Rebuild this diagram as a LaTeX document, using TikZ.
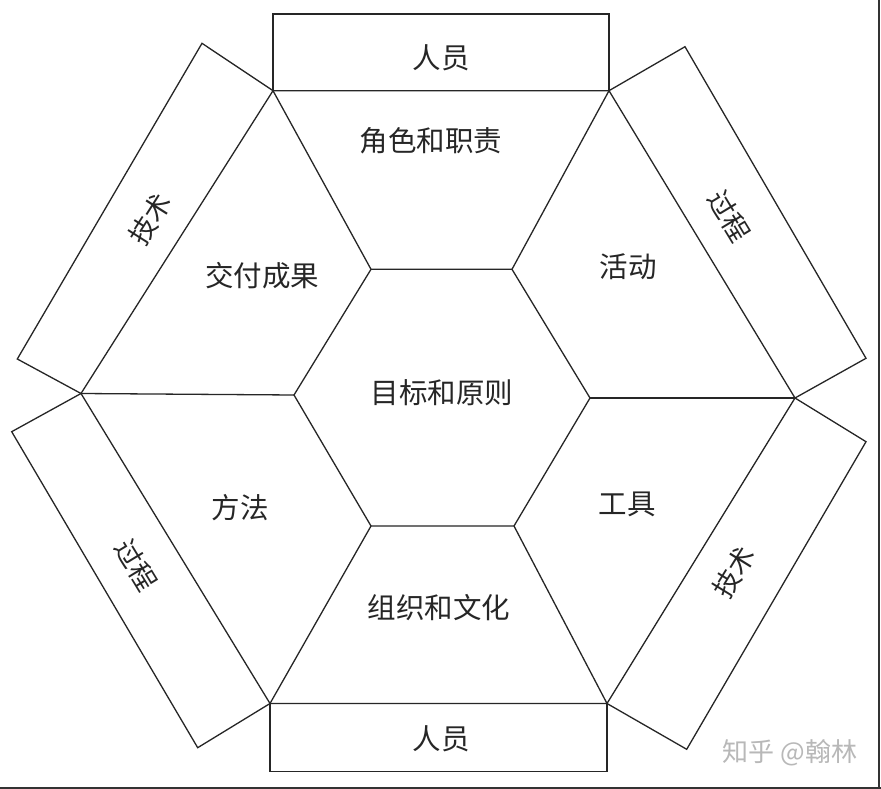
\documentclass[tikz,border=0pt]{standalone}
\usepackage{fontspec}
\newfontfamily\cjk{Noto Sans CJK SC}
\begin{document}
\begin{tikzpicture}[x=1pt,y=-1pt,
  edge/.style={draw=black!85, line width=1.3pt, line join=miter},
  lbl/.style={font=\cjk\fontsize{28.5}{31}\selectfont, text=black!85, inner sep=0pt},
  side/.style={font=\cjk\fontsize{27}{30}\selectfont, text=black!85, inner sep=0pt}]
\useasboundingbox (0,0) rectangle (881,789);
\fill[white] (0,0) rectangle (881,789);
% frame artefacts
\draw[black!80, line width=2pt] (0,787.5) -- (881,787.5);
\draw[black!80, line width=1.5pt] (879,0) -- (879,789);
% outer hexagon vertices
\coordinate (oTL) at (273,90.7);
\coordinate (oTR) at (609,90.7);
\coordinate (oR)  at (795,398);
\coordinate (oBR) at (607,703.5);
\coordinate (oBL) at (270,703.5);
\coordinate (oL)  at (81,393.5);
% inner hexagon vertices
\coordinate (iTL) at (371,269.3);
\coordinate (iTR) at (512,269.3);
\coordinate (iR)  at (590,398);
\coordinate (iBR) at (514,526);
\coordinate (iBL) at (371,526);
\coordinate (iL)  at (294,395);
% outer side panel corners
\coordinate (pT1) at (273,14);   \coordinate (pT2) at (609,14);
\coordinate (pB1) at (270,771.7); \coordinate (pB2) at (607,771.7);
\coordinate (pUL1) at (202,43.3); \coordinate (pUL2) at (17.3,359);
\coordinate (pUR1) at (685,46.7); \coordinate (pUR2) at (866,358.3);
\coordinate (pLL1) at (11.7,431.7); \coordinate (pLL2) at (197.7,747.7);
\coordinate (pLR1) at (866,441.7); \coordinate (pLR2) at (686.7,749.3);
% hexagons and spokes
\draw[edge] (oTL) -- (oTR) -- (oR) -- (oBR) -- (oBL) -- (oL) -- cycle;
\draw[edge] (iTL) -- (iTR) -- (iR) -- (iBR) -- (iBL) -- (iL) -- cycle;
\draw[edge] (oTL) -- (iTL);
\draw[edge] (oTR) -- (iTR);
\draw[edge] (oR) -- (iR);
\draw[edge] (oBR) -- (iBR);
\draw[edge] (oBL) -- (iBL);
\draw[edge] (oL) -- (iL);
% side panels
\draw[edge] (oTL) -- (pT1) -- (pT2) -- (oTR);
\draw[edge] (oBL) -- (pB1) -- (pB2) -- (oBR);
\draw[edge] (oTL) -- (pUL1) -- (pUL2) -- (oL);
\draw[edge] (oTR) -- (pUR1) -- (pUR2) -- (oR);
\draw[edge] (oL) -- (pLL1) -- (pLL2) -- (oBL);
\draw[edge] (oR) -- (pLR1) -- (pLR2) -- (oBR);
% labels
\node[lbl] (center) at (442,393) {目标和原则};
\node[lbl] (roles) at (431,141) {角色和职责};
\node[lbl] (deliv) at (262,276) {交付成果};
\node[lbl] (act) at (628,267) {活动};
\node[lbl] (meth) at (240,508) {方法};
\node[lbl] (tools) at (627,504) {工具};
\node[lbl] (org) at (439,608) {组织和文化};
\node[lbl] (ppl1) at (441,58) {人员};
\node[lbl] (ppl2) at (441,739) {人员};
\node[side, rotate=57.6] (tech1) at (150,219) {技术};
\node[side, rotate=-58.8] (proc1) at (729,216) {过程};
\node[side, rotate=-58.7] (proc2) at (136,565) {过程};
\node[side, rotate=58.3] (tech2) at (734,572) {技术};
\node[font=\cjk\fontsize{26}{28}\selectfont, text=black!28, inner sep=0pt] (wm) at (790,753) {知乎 @翰林};
\end{tikzpicture}
\end{document}
